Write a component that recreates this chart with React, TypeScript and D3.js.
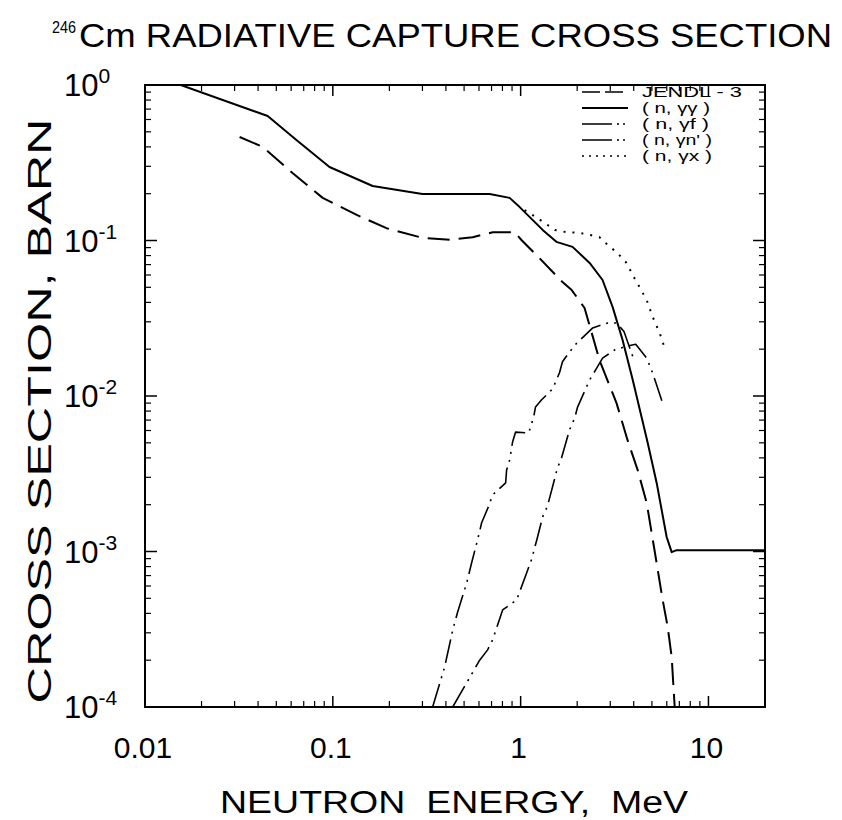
import React from "react";
import * as d3 from "d3";

const titleText = "Cm RADIATIVE CAPTURE CROSS SECTION";
const titleSup = "246";
const xTitle = "NEUTRON  ENERGY,  MeV";
const yTitle = "CROSS SECTION, BARN";
const xTickValues = [0.01, 0.1, 1, 10];
const xTickLabels = ["0.01", "0.1", "1", "10"];
const yTickExps = [0, -1, -2, -3, -4];

const legendLabels = ["JENDL - 3", "( n, γγ )", "( n, γf )", "( n, γn' )", "( n, γx )"];
const legendWidths = [100, 68, 67, 70, 70];

// JENDL-3 (dashed)
const jendlE = [0.0319, 0.0423, 0.061, 0.0883, 0.134, 0.193, 0.30, 0.419, 0.555, 0.71, 0.93, 1.01, 1.26, 1.67, 1.87, 2.19, 2.63, 3.24, 3.71, 4.20, 4.69, 5.30, 5.70, 6.06, 6.37, 6.61];
const jendlS = [0.463, 0.40, 0.272, 0.188, 0.146, 0.120, 0.104, 0.101, 0.105, 0.113, 0.113, 0.1007, 0.077, 0.054, 0.048, 0.0368, 0.017, 0.0090, 0.0052, 0.00334, 0.00205, 0.00084, 0.00049, 0.00033, 0.00021, 0.0001];

// (n, γγ) solid
const ggE = [0.0155, 0.045, 0.064, 0.096, 0.163, 0.30, 0.684, 0.874, 0.988, 1.31, 1.55, 1.89, 2.33, 2.73, 3.09, 3.49, 3.95, 4.75, 5.30, 5.99, 6.37, 6.77, 20];
const ggS = [1.0, 0.632, 0.443, 0.297, 0.224, 0.199, 0.199, 0.188, 0.164, 0.117, 0.098, 0.091, 0.0717, 0.0557, 0.0373, 0.0229, 0.0127, 0.00499, 0.00276, 0.00124, 0.00099, 0.00102, 0.00102];

// (n, γf)
const gfE = [0.340, 0.394, 0.435, 0.462, 0.516, 0.548, 0.590, 0.620, 0.676, 0.709, 0.832, 0.842, 0.874, 0.906, 0.940, 1.103, 1.13, 1.173, 1.20, 1.29, 1.48, 1.61, 1.67, 1.82, 1.99, 2.42, 2.91, 3.24, 3.55, 3.95];
const gfS = [0.0001, 0.000181, 0.000313, 0.000408, 0.000627, 0.000843, 0.00119, 0.00153, 0.00196, 0.00231, 0.00276, 0.00334, 0.00388, 0.00506, 0.00586, 0.00578, 0.00632, 0.00733, 0.0085, 0.00942, 0.0111, 0.0141, 0.0166, 0.0192, 0.0219, 0.0274, 0.0295, 0.0295, 0.026, 0.018];

// (n, γn')
const gnE = [0.435, 0.605, 0.667, 0.709, 0.802, 0.874, 0.952, 1.076, 1.14, 1.22, 1.31, 1.39, 1.57, 1.65, 1.82, 1.94, 2.01, 2.33, 2.54, 2.73, 3.17, 3.71, 4.10, 4.69, 5.05, 5.70];
const gnS = [0.0001, 0.0002, 0.000233, 0.00027, 0.000421, 0.000453, 0.000488, 0.000727, 0.000881, 0.00119, 0.00167, 0.00196, 0.00344, 0.00399, 0.00604, 0.00722, 0.00849, 0.0127, 0.0151, 0.0175, 0.0198, 0.021, 0.0215, 0.0175, 0.0140, 0.0090];

// (n, γx) dotted
const gxE = [1.05, 1.22, 1.34, 1.52, 1.76, 2.06, 2.39, 2.63, 2.91, 3.28, 3.67, 3.95, 4.30, 4.69, 5.05, 5.50, 5.84];
const gxS = [0.157, 0.14, 0.130, 0.117, 0.113, 0.112, 0.108, 0.105, 0.0935, 0.083, 0.0716, 0.060, 0.050, 0.0414, 0.0322, 0.0254, 0.0204];

const L = 145, R = 765, T = 85, B = 707;
const FONT = "'Liberation Sans', Arial, sans-serif";

export default function App() {
  const x = d3.scaleLog().domain([0.01, 20]).range([L, R]);
  const y = d3.scaleLog().domain([1e-4, 1]).range([B, T]);
  const line = d3.line<[number, number]>().x(d => x(d[0])).y(d => y(d[1]));
  const mk = (E: number[], S: number[]) => line(E.map((e, i) => [e, S[i]] as [number, number])) || "";

  const series = [
    { d: mk(jendlE, jendlS), dash: "22,9", w: 2 },
    { d: mk(ggE, ggS), dash: "none", w: 2 },
    { d: mk(gfE, gfS), dash: "24,6,2,6,2,6", w: 1.6 },
    { d: mk(gnE, gnS), dash: "24,6,2,6,2,6", w: 1.6 },
    { d: mk(gxE, gxS), dash: "2,7", w: 2 },
  ];
  const legendDash = ["18,5", "none", "30,5,2,4,2,4", "30,5,2,4,2,4", "2,5"];

  const xMinor: number[] = [];
  for (let dec = 0.01; dec < 20; dec *= 10) {
    for (let k = 2; k <= 9; k++) { const v = dec * k; if (v < 20) xMinor.push(v); }
  }
  const yMinor: number[] = [];
  for (let e = -4; e < 0; e++) for (let k = 2; k <= 9; k++) yMinor.push(k * Math.pow(10, e));

  return (
    <svg width={842} height={820} style={{ position: "absolute", left: 0, top: 0, background: "#fff" }} fontFamily={FONT}>
      <rect x={0} y={0} width={842} height={820} fill="#fff" />
      {/* title */}
      <text x={52} y={33} fontSize={17} textLength={24} lengthAdjust="spacingAndGlyphs">{titleSup}</text>
      <text x={79} y={47} fontSize={33} textLength={753} lengthAdjust="spacingAndGlyphs">{titleText}</text>

      {/* frame */}
      <rect x={L} y={T} width={R - L} height={B - T} fill="none" stroke="#000" strokeWidth={2} />

      {/* x ticks */}
      {xTickValues.map(v => (
        <g key={"xt" + v}>
          <line x1={x(v)} x2={x(v)} y1={B} y2={B - 11} stroke="#000" strokeWidth={1.5} />
          <line x1={x(v)} x2={x(v)} y1={T} y2={T + 11} stroke="#000" strokeWidth={1.5} />
        </g>
      ))}
      {xMinor.map(v => (
        <g key={"xm" + v}>
          <line x1={x(v)} x2={x(v)} y1={B} y2={B - 6} stroke="#000" strokeWidth={1.2} />
          <line x1={x(v)} x2={x(v)} y1={T} y2={T + 6} stroke="#000" strokeWidth={1.2} />
        </g>
      ))}
      {yTickExps.map(e => (
        <g key={"yt" + e}>
          <line x1={L} x2={L + 12} y1={y(Math.pow(10, e))} y2={y(Math.pow(10, e))} stroke="#000" strokeWidth={1.5} />
          <line x1={R} x2={R - 12} y1={y(Math.pow(10, e))} y2={y(Math.pow(10, e))} stroke="#000" strokeWidth={1.5} />
        </g>
      ))}
      {yMinor.map(v => (
        <g key={"ym" + v}>
          <line x1={L} x2={L + 6} y1={y(v)} y2={y(v)} stroke="#000" strokeWidth={1.2} />
          <line x1={R} x2={R - 6} y1={y(v)} y2={y(v)} stroke="#000" strokeWidth={1.2} />
        </g>
      ))}

      {/* x tick labels */}
      {xTickValues.map((v, i) => (
        <text key={"xl" + v} x={x(v) - 2} y={758} fontSize={30} textAnchor="middle">{xTickLabels[i]}</text>
      ))}
      {/* y tick labels */}
      {yTickExps.map(e => (
        <text key={"yl" + e} x={64} y={y(Math.pow(10, e)) + 11} fontSize={31}>
          10
          <tspan dy={-13} fontSize={21}>{e === 0 ? "0" : "-" + (-e)}</tspan>
        </text>
      ))}

      {/* axis titles */}
      <text x={454} y={813} fontSize={31} textAnchor="middle" textLength={468} lengthAdjust="spacingAndGlyphs" style={{ whiteSpace: "pre" }}>{xTitle}</text>
      <text transform="translate(51,411) rotate(-90)" fontSize={34} textAnchor="middle" textLength={585} lengthAdjust="spacingAndGlyphs">{yTitle}</text>

      {/* curves */}
      <defs>
        <clipPath id="plotclip"><rect x={L} y={T} width={R - L} height={B - T} /></clipPath>
      </defs>
      <g clipPath="url(#plotclip)">
        {series.map((s, i) => (
          <path key={"s" + i} d={s.d} fill="none" stroke="#000" strokeWidth={s.w} strokeDasharray={s.dash} strokeLinejoin="round" />
        ))}
      </g>

      {/* legend */}
      {legendLabels.map((lab, i) => {
        const yy = 92 + i * 16;
        return (
          <g key={"lg" + i}>
            <line x1={582} x2={628} y1={yy} y2={yy} stroke="#000" strokeWidth={i === 1 ? 2 : 1.6} strokeDasharray={legendDash[i]} />
            <text x={642} y={yy + 5} fontSize={14} textLength={legendWidths[i]} lengthAdjust="spacingAndGlyphs">{lab}</text>
          </g>
        );
      })}
    </svg>
  );
}
